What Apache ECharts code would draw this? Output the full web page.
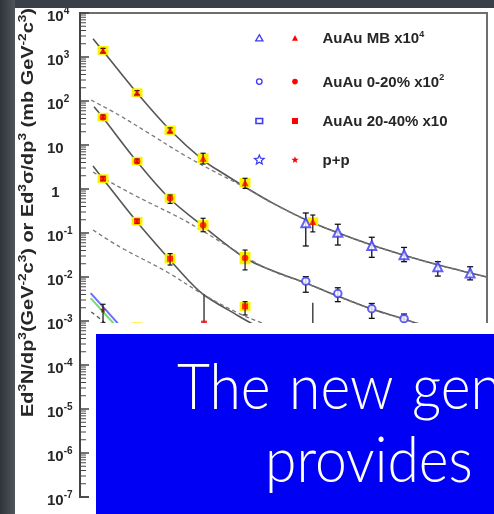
<!DOCTYPE html>
<html><head><meta charset="utf-8">
<script src="https://cdn.jsdelivr.net/npm/echarts@6/dist/echarts.min.js"></script>
<style>html,body{margin:0;padding:0;background:#fff}#c{width:494px;height:514px}</style>
</head><body><div id="c"></div>
<script>
// ---------------- DATA ----------------
// y-axis decades (tick labels 10^-7 ... 10^4)
const yMin = 1e-7, yMax = 1e4;
const xMin = 0.9, xMax = 7.0;

// AuAu MB x10^4 — red (low pT) with systematic boxes
const mbRedPT    = [1.245, 1.755, 2.25, 2.745, 3.374, 4.389];
const mbRedY     = [1400, 155, 21.5, 5.0, 1.38, 0.183];
const mbRedErrLo = [1250, 140, 19, 3.7, 1.03, 0.106];
const mbRedErrHi = [1570, 172, 24.5, 6.5, 1.75, 0.256];
const mbRedSysLo = [1120, 124, 17, 3.9, 1.08, 0.148];
const mbRedSysHi = [1780, 194, 27.5, 6.5, 1.78, 0.228];
// AuAu MB x10^4 — blue open triangles (high pT)
const mbBluePT    = [4.284, 4.764, 5.273, 5.757, 6.263, 6.747];
const mbBlueY     = [0.17, 0.104, 0.052, 0.032, 0.017, 0.0123];
const mbBlueErrLo = [0.0507, 0.0533, 0.028, 0.0223, 0.0105, 0.0086];
const mbBlueErrHi = [0.285, 0.158, 0.08, 0.047, 0.0223, 0.0171];

// AuAu 0-20% x10^2
const c020RedPT    = [1.245, 1.755, 2.25, 2.745, 3.374];
const c020RedY     = [43, 4.3, 0.62, 0.15, 0.027];
const c020RedErrLo = [39, 3.9, 0.47, 0.107, 0.0145];
const c020RedErrHi = [48, 4.8, 0.73, 0.216, 0.041];
const c020RedSysLo = [34.5, 3.45, 0.49, 0.115, 0.0195];
const c020RedSysHi = [54, 5.4, 0.79, 0.196, 0.037];
const c020BluePT    = [4.284, 4.764, 5.273, 5.757];
const c020BlueY     = [0.008, 0.0042, 0.0019, 0.00113];
const c020BlueErrLo = [0.0045, 0.00275, 0.00115, 0.00063];
const c020BlueErrHi = [0.0102, 0.0057, 0.0025, 0.00144];

// AuAu 20-40% x10
const c2040RedPT    = [1.245, 1.755, 2.25, 3.374];
const c2040RedY     = [1.72, 0.185, 0.026, 0.00215];
const c2040RedErrLo = [1.55, 0.165, 0.0187, 0.00137];
const c2040RedErrHi = [1.9, 0.205, 0.034, 0.00275];
const c2040RedSysLo = [1.37, 0.147, 0.0205, 0.0017];
const c2040RedSysHi = [2.16, 0.233, 0.033, 0.0027];
// upper limits (line from top down to arrow)
const c2040LimPT     = [2.759, 4.389];
const c2040LimTop    = [0.0041, 0.0026];
const c2040LimBottom = [0.00092, 0.0006];

// p+p
const ppPT    = [1.245, 1.755];
const ppY     = [0.0018, 0.00045];
const ppErrLo = [0.0009, 0.0003];
const ppErrHi = [0.0024, 0.0006];
const ppSysLo = [null, 0.0003];
const ppSysHi = [null, 0.00093];

// Fit curves (solid) and scaled p+p curves (dashed)
const mbFitPT = [1.095, 1.245, 1.755, 2.249, 2.744, 3.06, 3.374, 3.79, 4.284, 4.764, 5.273, 5.757, 6.263, 6.747, 7.0];
const mbFitY  = [2600, 1370, 152, 21.9, 4.56, 2.19, 1.11, 0.477, 0.201, 0.1014, 0.0532, 0.0312, 0.0189, 0.01236, 0.0100];
const mbPPPT  = [1.065, 1.455, 1.949, 2.459, 2.954, 3.359, 3.79, 4.284, 4.764, 5.273, 5.757, 6.263, 6.747, 7.0];
const mbPPY   = [105.4, 50.7, 17.8, 5.93, 2.31, 1.11, 0.47, 0.199, 0.1005, 0.0528, 0.031, 0.0188, 0.0123, 0.00996];

const c020FitPT = [1.11, 1.245, 1.755, 2.234, 2.744, 3.374, 3.79, 4.284, 4.764, 5.273, 5.757, 6.0, 6.747];
const c020FitY  = [74, 41.7, 4.17, 0.624, 0.144, 0.027, 0.0139, 0.0073, 0.0037, 0.00187, 0.00111, 0.00085, 0.00054];
const c020PPPT  = [1.095, 1.245, 1.71, 2.4, 2.714, 3.464, 3.79, 4.284, 4.764, 5.273, 5.757, 6.0];
const c020PPY   = [2.43, 1.78, 0.73, 0.219, 0.117, 0.0243, 0.0135, 0.0072, 0.00365, 0.00185, 0.0011, 0.00084];

const c2040FitPT = [1.095, 1.245, 1.755, 2.249, 2.519, 2.759, 3.269, 3.494, 3.82];
const c2040FitY  = [3.33, 1.69, 0.178, 0.0243, 0.00855, 0.0039, 0.00132, 0.00085, 0.0005];
const c2040PPPT  = [1.095, 1.5, 2.204, 2.759, 3.269, 3.629, 4.05];
const c2040PPY   = [0.117, 0.048, 0.013, 0.0039, 0.00152, 0.0009, 0.00054];

// p+p curves at bottom left
const ppBluePT  = [1.06, 1.46, 1.8];
const ppBlueY   = [0.0043, 0.00091, 0.00025];
const ppGreenPT = [1.06, 1.395, 1.8];
const ppGreenY  = [0.0033, 0.00091, 0.0002];
const ppDashPT  = [1.07, 1.27, 1.6];
const ppDashY   = [0.0016, 0.00091, 0.0003];

// Texts
const legendLabels = [['AuAu MB x10', '4'], ['AuAu 0-20% x10', '2'], ['AuAu 20-40% x10', ''], ['p+p', '']];
const titleParts = [['Ed','b'],['3','s'],['N/dp','b'],['3','s'],['(GeV','b'],['-2','s'],['c','b'],['3','s'],[') or Ed','b'],['3','s'],['\u03c3/dp','b'],['3','s'],[' (mb GeV','b'],['-2','s'],['c','b'],['3','s'],[')','b']];
const slideLine1 = ['The', 'new', 'gen'];
const slideLine2 = 'provides';

// ---------------- CHART ----------------
const FONT = '"Liberation Sans", Arial, Helvetica, sans-serif';
const SLIDEFONT = 'Lato, "Open Sans", sans-serif';
const TXT = '#262626';
const RED = '#ff0000', BLUE = '#3b3bf5', YEL = '#fbf200';
const zip = (xs, ...cols) => xs.map((x, i) => [x, ...cols.map(c => c[i])]);

function boxErrRender(params, api) {
  const x = api.value(0);
  const lo = api.value(2), hi = api.value(3), slo = api.value(4), shi = api.value(5);
  const ch = [];
  if (slo != null && !isNaN(slo) && shi != null && !isNaN(shi)) {
    const a = api.coord([x - 0.082, slo]), b = api.coord([x + 0.082, shi]);
    ch.push({type: 'rect', shape: {x: a[0], y: b[1], width: b[0] - a[0], height: a[1] - b[1]}, style: {fill: YEL}});
  }
  const p1 = api.coord([x, lo]), p2 = api.coord([x, hi]);
  const st = {stroke: '#111', lineWidth: 1.2};
  ch.push({type: 'line', shape: {x1: p1[0], y1: p1[1], x2: p2[0], y2: p2[1]}, style: st});
  ch.push({type: 'line', shape: {x1: p1[0] - 2.5, y1: p1[1], x2: p1[0] + 2.5, y2: p1[1]}, style: st});
  ch.push({type: 'line', shape: {x1: p2[0] - 2.5, y1: p2[1], x2: p2[0] + 2.5, y2: p2[1]}, style: st});
  return {type: 'group', children: ch};
}
function errRender(params, api) {
  const x = api.value(0), lo = api.value(2), hi = api.value(3);
  const p1 = api.coord([x, lo]), p2 = api.coord([x, hi]);
  const st = {stroke: '#111', lineWidth: 1.3};
  return {type: 'group', children: [
    {type: 'line', shape: {x1: p1[0], y1: p1[1], x2: p2[0], y2: p2[1]}, style: st},
    {type: 'line', shape: {x1: p1[0] - 3, y1: p1[1], x2: p1[0] + 3, y2: p1[1]}, style: st},
    {type: 'line', shape: {x1: p2[0] - 3, y1: p2[1], x2: p2[0] + 3, y2: p2[1]}, style: st}
  ]};
}
function limRender(params, api) {
  const x = api.value(0);
  const p1 = api.coord([x, api.value(1)]), p2 = api.coord([x, api.value(2)]);
  return {type: 'line', shape: {x1: p1[0], y1: p1[1], x2: p2[0], y2: p2[1]}, style: {stroke: '#444', lineWidth: 1.5}};
}
// minor log ticks 2..9 x 10^k (axis decoration)
const minorTicks = [];
for (let k = -7; k < 4; k++) for (let m = 2; m <= 9; m++) minorTicks.push([m * Math.pow(10, k)]);

const lineS = (name, xs, ys, dashed, color, width) => ({
  name, type: 'line', data: zip(xs, ys), showSymbol: false, symbol: 'none', smooth: 0.35, z: 2,
  lineStyle: {color: color || (dashed ? '#7a7a7a' : '#555'), width: width || (dashed ? 1.3 : 1.6), type: dashed ? [4, 3] : 'solid'}
});

const series = [
  {type: 'custom', name: 'minor', data: minorTicks, renderItem: (p, a) => {
    const pt = a.coord([xMin, a.value(0)]);
    return {type: 'line', shape: {x1: pt[0], y1: pt[1], x2: pt[0] + 6, y2: pt[1]}, style: {stroke: '#444', lineWidth: 1}};
  }, encode: {x: -1, y: 0}, clip: false, z: 3, silent: true},
  lineS('mbFit', mbFitPT, mbFitY, false),
  lineS('mbPP', mbPPPT, mbPPY, true),
  lineS('c020Fit', c020FitPT, c020FitY, false),
  lineS('c020PP', c020PPPT, c020PPY, true),
  lineS('c2040Fit', c2040FitPT, c2040FitY, false),
  lineS('c2040PP', c2040PPPT, c2040PPY, true),
  lineS('ppBlue', ppBluePT, ppBlueY, false, '#6f6cff', 2),
  lineS('ppGreen', ppGreenPT, ppGreenY, false, '#6ee06e', 2),
  lineS('ppDash', ppDashPT, ppDashY, true, '#555', 1.3),
  {type: 'custom', name: 'mbRedBox', renderItem: boxErrRender, z: 3, encode: {x: 0, y: 1},
   data: zip(mbRedPT, mbRedY, mbRedErrLo, mbRedErrHi, mbRedSysLo, mbRedSysHi)},
  {type: 'custom', name: 'c020RedBox', renderItem: boxErrRender, z: 3, encode: {x: 0, y: 1},
   data: zip(c020RedPT, c020RedY, c020RedErrLo, c020RedErrHi, c020RedSysLo, c020RedSysHi)},
  {type: 'custom', name: 'c2040RedBox', renderItem: boxErrRender, z: 3, encode: {x: 0, y: 1},
   data: zip(c2040RedPT, c2040RedY, c2040RedErrLo, c2040RedErrHi, c2040RedSysLo, c2040RedSysHi)},
  {type: 'custom', name: 'ppBox', renderItem: boxErrRender, z: 3, encode: {x: 0, y: 1},
   data: zip(ppPT, ppY, ppErrLo, ppErrHi, ppSysLo, ppSysHi)},
  {type: 'custom', name: 'c2040Lim', renderItem: limRender, z: 3, encode: {x: 0, y: 1},
   data: zip(c2040LimPT, c2040LimTop, c2040LimBottom)},
  {type: 'custom', name: 'mbBlueErr', renderItem: errRender, z: 3, encode: {x: 0, y: 1},
   data: zip(mbBluePT, mbBlueY, mbBlueErrLo, mbBlueErrHi)},
  {type: 'custom', name: 'c020BlueErr', renderItem: errRender, z: 3, encode: {x: 0, y: 1},
   data: zip(c020BluePT, c020BlueY, c020BlueErrLo, c020BlueErrHi)},
  {type: 'scatter', name: 'AuAu MB x10^4', data: zip(mbRedPT, mbRedY), symbol: 'triangle', symbolSize: 7, itemStyle: {color: RED}, z: 4},
  {type: 'scatter', name: 'AuAu 0-20% x10^2', data: zip(c020RedPT, c020RedY), symbol: 'circle', symbolSize: 6.5, itemStyle: {color: RED}, z: 4},
  {type: 'scatter', name: 'AuAu 20-40% x10', data: zip(c2040RedPT, c2040RedY), symbol: 'rect', symbolSize: 6, itemStyle: {color: RED}, z: 4},
  {type: 'scatter', name: 'p+p', data: zip(ppPT, ppY), symbol: 'path://M0,-10L2.9,-4L9.5,-3.1L4.8,1.5L5.9,8.1L0,5L-5.9,8.1L-4.8,1.5L-9.5,-3.1L-2.9,-4Z', symbolSize: 6, itemStyle: {color: '#7a1010'}, z: 4},
  {type: 'scatter', name: 'limit', data: zip(c2040LimPT, c2040LimBottom), symbol: 'rect', symbolSize: [6, 4], itemStyle: {color: RED}, z: 4},
  {type: 'scatter', name: 'AuAu MB x10^4 (high pT)', data: zip(mbBluePT, mbBlueY), symbol: 'emptyTriangle', symbolSize: 9, itemStyle: {color: BLUE, borderWidth: 1.4}, z: 5},
  {type: 'scatter', name: 'AuAu 0-20% x10^2 (high pT)', data: zip(c020BluePT, c020BlueY), symbol: 'emptyCircle', symbolSize: 7.5, itemStyle: {color: BLUE, borderWidth: 1.4}, z: 5}
];

// y-axis title measurement to match reference length
const titleRich = {
  b: {fontSize: 16, fontWeight: 'bold', fontFamily: FONT, fill: TXT, lineHeight: 20, verticalAlign: 'bottom'},
  s: {fontSize: 11, fontWeight: 'bold', fontFamily: FONT, fill: TXT, lineHeight: 11, verticalAlign: 'top'}
};
const cv = document.createElement('canvas').getContext('2d');
let tw = 0;
titleParts.forEach(([t, s]) => { cv.font = 'bold ' + titleRich[s].fontSize + 'px ' + FONT; tw += cv.measureText(t).width; });
const titleScale = 409 / tw;
const titleText = titleParts.map(([t, s]) => '{' + s + '|' + t + '}').join('');

// legend graphics
function starPts(cx, cy, R, r) {
  const pts = [];
  for (let i = 0; i < 10; i++) {
    const a = -Math.PI / 2 + i * Math.PI / 5, rr = i % 2 ? r : R;
    pts.push([cx + rr * Math.cos(a), cy + rr * Math.sin(a)]);
  }
  return pts;
}
const lgX1 = 259.3, lgX2 = 295, lgTX = 322.5, lgY = [38.3, 81.6, 121, 160];
const legRich = {
  b: {fontSize: 15, fontWeight: 'bold', fontFamily: FONT, fill: TXT, lineHeight: 17, verticalAlign: 'bottom'},
  s: {fontSize: 9, fontWeight: 'bold', fontFamily: FONT, fill: TXT, lineHeight: 9, verticalAlign: 'top'}
};
const slideRich = {
  w: {fontSize: 57, fontWeight: 300, fontFamily: SLIDEFONT, fill: '#fff'},
  sp: {fontSize: 57, fontWeight: 300, fontFamily: SLIDEFONT, fill: '#fff', width: 18.5}
};
const graphics = [
  // slide dark edges
  {type: 'rect', shape: {x: 0, y: 0, width: 494, height: 8}, style: {fill: '#3b4048'}, z: 50},
  {type: 'rect', shape: {x: 0, y: 0, width: 15, height: 514},
   style: {fill: new echarts.graphic.LinearGradient(0, 0, 1, 0, [{offset: 0, color: '#2f343b'}, {offset: 1, color: '#4f555d'}])}, z: 50},
  // y-axis title
  {type: 'text', x: 27, y: 212.5, rotation: Math.PI / 2, scaleX: titleScale, z: 60,
   style: {text: titleText, rich: titleRich, fill: TXT, align: 'center', verticalAlign: 'middle'}},
  // legend symbols
  {type: 'polygon', shape: {points: [[lgX1, lgY[0] - 3.6], [lgX1 + 3.6, lgY[0] + 2.6], [lgX1 - 3.6, lgY[0] + 2.6]]}, style: {fill: '#fff', stroke: BLUE, lineWidth: 1.3}, z: 60},
  {type: 'polygon', shape: {points: [[lgX2, lgY[0] - 3.2], [lgX2 + 3, lgY[0] + 2.4], [lgX2 - 3, lgY[0] + 2.4]]}, style: {fill: RED}, z: 60},
  {type: 'circle', shape: {cx: lgX1, cy: lgY[1], r: 2.8}, style: {fill: '#fff', stroke: BLUE, lineWidth: 1.3}, z: 60},
  {type: 'circle', shape: {cx: lgX2, cy: lgY[1], r: 2.8}, style: {fill: RED}, z: 60},
  {type: 'rect', shape: {x: lgX1 - 3.3, y: lgY[2] - 2.5, width: 6.6, height: 5}, style: {fill: '#fff', stroke: BLUE, lineWidth: 1.6}, z: 60},
  {type: 'rect', shape: {x: lgX2 - 3, y: lgY[2] - 3, width: 6, height: 6}, style: {fill: RED}, z: 60},
  {type: 'polygon', shape: {points: starPts(lgX1, lgY[3], 5, 2.2)}, style: {fill: '#fff', stroke: BLUE, lineWidth: 1.2}, z: 60},
  {type: 'polygon', shape: {points: starPts(lgX2, lgY[3], 3.8, 1.6)}, style: {fill: RED}, z: 60},
  // covering white band and blue slide box
  {type: 'rect', shape: {x: 89, y: 323, width: 405, height: 191}, style: {fill: '#fff'}, z: 100},
  {type: 'rect', shape: {x: 96, y: 334, width: 398, height: 180}, style: {fill: '#0000f4'}, z: 101},
  {type: 'text', x: 177, y: 389, scaleY: 1.1, z: 102,
   style: {text: slideLine1.map(w => '{w|' + w + '}').join('{sp| }'), rich: slideRich, fill: '#fff', align: 'left', verticalAlign: 'middle'}},
  {type: 'text', x: 265, y: 462, scaleY: 1.1, z: 102,
   style: {text: slideLine2, fill: '#fff', fontSize: 57, fontWeight: 300, fontFamily: SLIDEFONT, align: 'left', verticalAlign: 'middle'}}
];
legendLabels.forEach(([t, sup], i) => {
  graphics.push({type: 'text', x: lgTX, y: lgY[i], z: 60,
    style: {text: '{b|' + t + '}' + (sup ? '{s|' + sup + '}' : ''), rich: legRich, fill: TXT, align: 'left', verticalAlign: 'middle'}});
});

const chart = echarts.init(document.getElementById('c'), null, {renderer: 'canvas'});
chart.setOption({
  animation: false,
  backgroundColor: '#fff',
  grid: {left: 80, right: 7, top: 13, bottom: 17, show: true, borderColor: '#6e6e6e', borderWidth: 2, backgroundColor: 'transparent'},
  xAxis: {type: 'value', min: xMin, max: xMax, axisLine: {show: false}, axisTick: {show: false}, axisLabel: {show: false}, splitLine: {show: false}},
  yAxis: {
    type: 'log', logBase: 10, min: yMin, max: yMax, interval: 1,
    axisLine: {show: true, lineStyle: {color: '#444', width: 2}},
    axisTick: {show: true, inside: true, length: 9, lineStyle: {color: '#444', width: 1.5}},
    splitLine: {show: false},
    axisLabel: {
      margin: 33, align: 'left', showMinLabel: true, showMaxLabel: true, padding: [4, 0, 0, 0],
      formatter: v => {
        const e = Math.round(Math.log10(v));
        if (e === 0) return '{b| 1}';
        if (e === 1) return '{b|10}';
        return '{b|10}{s|' + e + '}';
      },
      rich: {
        b: {fontSize: 15, fontWeight: 'bold', fontFamily: FONT, color: TXT, lineHeight: 18, verticalAlign: 'bottom'},
        s: {fontSize: 10, fontWeight: 'bold', fontFamily: FONT, color: TXT, lineHeight: 10, verticalAlign: 'top'}
      }
    }
  },
  graphic: {elements: graphics},
  series
});
</script></body></html>
